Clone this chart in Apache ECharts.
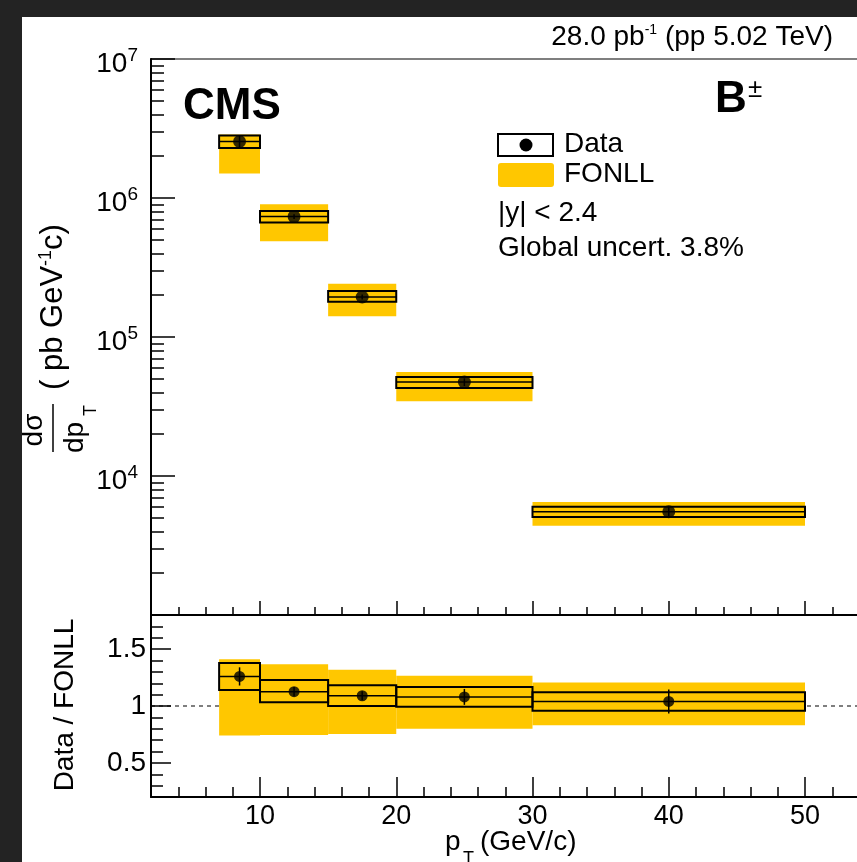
<!DOCTYPE html>
<html>
<head>
<meta charset="utf-8">
<script src="https://cdn.jsdelivr.net/npm/echarts@6/dist/echarts.min.js"></script>
<style>
  html, body { margin: 0; padding: 0; background: #232323; overflow: hidden; }
  #paper { position: absolute; left: 22px; top: 17px; width: 900px; height: 900px; background: #fff; }
  #chart { position: absolute; left: 0; top: 0; width: 900px; height: 862px; }
</style>
</head>
<body>
<div id="paper"></div>
<div id="chart"></div>
<script>
// pT bins (GeV/c)
const binLo = [7, 10, 15, 20, 30]
const binHi = [10, 15, 20, 30, 50]
const binCenter = [8.5, 12.5, 17.5, 25, 40]

// dsigma/dpT (pb GeV^-1 c)
const xsec = [2.55e6, 7.35e5, 1.94e5, 4.74e4, 5.53e3]
const xsecStat = [2.6e5, 3.0e4, 8.0e3, 3.0e3, 5.5e2]
const xsecSystLo = [2.29e6, 6.67e5, 1.79e5, 4.30e4, 5.07e3]
const xsecSystHi = [2.82e6, 8.07e5, 2.14e5, 5.15e4, 6.01e3]
const fonllLo = [1.50e6, 4.88e5, 1.41e5, 3.45e4, 4.38e3]
const fonllHi = [2.86e6, 9.00e5, 2.42e5, 5.60e4, 6.49e3]

// Data / FONLL
const ratio = [1.26, 1.126, 1.09, 1.08, 1.04]
const ratioStat = [0.08, 0.04, 0.04, 0.07, 0.105]
const ratioSystLo = [1.141, 1.032, 1.0, 0.994, 0.959]
const ratioSystHi = [1.377, 1.229, 1.182, 1.168, 1.121]
const ratioFonllLo = [0.741, 0.744, 0.753, 0.80, 0.83]
const ratioFonllHi = [1.412, 1.368, 1.318, 1.265, 1.206]
const unity = 1

// ticks
const ptTicks = [10, 20, 30, 40, 50]
const ratioTicks = [0.5, 1, 1.5]
const decades = [1e3, 1e4, 1e5, 1e6]
const minorMult = [2, 3, 4, 5, 6, 7, 8, 9]
const xsecMinorTicks = []
decades.forEach(d => minorMult.forEach(m => xsecMinorTicks.push(m * d)))

const FONT = '"Liberation Sans", Arial, Helvetica, sans-serif'
const YELLOW = '#ffc700'

const chart = echarts.init(document.getElementById('chart'))

function fillBox(params, api) {
  const p0 = api.coord([api.value(0), api.value(3)])
  const p1 = api.coord([api.value(1), api.value(2)])
  return {
    type: 'rect',
    shape: { x: p0[0], y: p0[1], width: p1[0] - p0[0], height: p1[1] - p0[1] },
    style: { fill: YELLOW }
  }
}

function systBox(params, api) {
  const p0 = api.coord([api.value(0), api.value(3)])
  const p1 = api.coord([api.value(1), api.value(2)])
  const mid = api.coord([api.value(0), api.value(4)])[1]
  return {
    type: 'group',
    children: [
      { type: 'rect', shape: { x: p0[0], y: p0[1], width: p1[0] - p0[0], height: p1[1] - p0[1] },
        style: { fill: 'none', stroke: '#000', lineWidth: 2 } },
      { type: 'line', shape: { x1: p0[0], y1: mid, x2: p1[0], y2: mid },
        style: { stroke: '#000', lineWidth: 1.5 } }
    ]
  }
}

function errBar(params, api) {
  const c = api.value(0), v = api.value(1), e = api.value(2)
  const a = api.coord([c, v - e]), b = api.coord([c, v + e])
  return { type: 'line', shape: { x1: a[0], y1: a[1], x2: b[0], y2: b[1] }, style: { stroke: '#000', lineWidth: 1.5 } }
}

const axisLine = { show: true, lineStyle: { color: '#000', width: 2 } }
const tickStyle = { color: '#000', width: 1.5 }
const noSplit = { show: false }

function ptAxis(grid, major, len, labels) {
  const ax = {
    gridIndex: grid, type: 'value', min: 2, max: 56, position: 'bottom',
    axisLine: major ? axisLine : { show: false },
    axisTick: { inside: true, length: len, lineStyle: tickStyle },
    axisLabel: { show: false },
    splitLine: noSplit
  }
  if (major) ax.axisTick.customValues = ptTicks
  else ax.interval = 2
  if (labels) ax.axisLabel = { show: true, customValues: ptTicks, fontSize: 27, color: '#000', fontFamily: FONT, margin: 6 }
  return ax
}

const box = (lo, hi, a, b, m) => lo.map((l, i) => m ? [l, hi[i], a[i], b[i], m[i]] : [l, hi[i], a[i], b[i]])
const pts = (x, y, e) => x.map((c, i) => e ? [c, y[i], e[i]] : [c, y[i]])

chart.setOption({
  animation: false,
  backgroundColor: 'transparent',
  textStyle: { fontFamily: FONT },
  grid: [
    { left: 151, top: 59, width: 735.75, height: 556, show: true, borderColor: '#555', borderWidth: 1.5 },
    { left: 151, top: 615, width: 735.75, height: 182, show: true, borderColor: '#000', borderWidth: 1 }
  ],
  xAxis: [
    ptAxis(0, true, 14, false),
    ptAxis(0, false, 8, false),
    ptAxis(1, true, 20, true),
    ptAxis(1, false, 10, false)
  ],
  yAxis: [
    { gridIndex: 0, type: 'log', logBase: 10, min: 1000, max: 1e7, position: 'left',
      axisLine, axisTick: { inside: true, length: 24, lineStyle: tickStyle },
      axisLabel: {
        margin: 13, color: '#000', fontFamily: FONT, padding: [10, 0, 0, 0],
        formatter: v => v < 5000 ? '' : '{b|10}{e|' + Math.round(Math.log10(v)) + '}',
        rich: {
          b: { fontSize: 28, lineHeight: 36, fontFamily: FONT, color: '#000' },
          e: { fontSize: 19, verticalAlign: 'top', lineHeight: 36, fontFamily: FONT, color: '#000' }
        }
      },
      splitLine: noSplit },
    { gridIndex: 0, type: 'log', logBase: 10, min: 1000, max: 1e7, position: 'left',
      axisLine: { show: false }, axisTick: { inside: true, length: 13, lineStyle: tickStyle, customValues: xsecMinorTicks },
      axisLabel: { show: false }, splitLine: noSplit },
    { gridIndex: 1, type: 'value', min: 0.2, max: 1.8, position: 'left',
      axisLine, axisTick: { inside: true, length: 20, lineStyle: tickStyle, customValues: ratioTicks },
      axisLabel: { customValues: ratioTicks, fontSize: 28, color: '#000', fontFamily: FONT, margin: 5 },
      splitLine: noSplit },
    { gridIndex: 1, type: 'value', min: 0.2, max: 1.8, interval: 0.1, position: 'left',
      axisLine: { show: false }, axisTick: { inside: true, length: 12, lineStyle: tickStyle },
      axisLabel: { show: false }, splitLine: noSplit }
  ],
  series: [
    { type: 'custom', xAxisIndex: 0, yAxisIndex: 0, z: 1, renderItem: fillBox,
      encode: { x: [0, 1], y: [2, 3] }, data: box(binLo, binHi, fonllLo, fonllHi) },
    { type: 'custom', xAxisIndex: 0, yAxisIndex: 0, z: 3, renderItem: systBox,
      encode: { x: [0, 1], y: [2, 3, 4] }, data: box(binLo, binHi, xsecSystLo, xsecSystHi, xsec) },
    { type: 'custom', xAxisIndex: 0, yAxisIndex: 0, z: 4, renderItem: errBar,
      encode: { x: 0, y: 1 }, data: pts(binCenter, xsec, xsecStat) },
    { type: 'scatter', xAxisIndex: 0, yAxisIndex: 0, z: 5, symbolSize: 13,
      itemStyle: { color: '#000' }, data: pts(binCenter, xsec) },

    { type: 'line', xAxisIndex: 2, yAxisIndex: 2, z: 0, silent: true, symbol: 'none',
      lineStyle: { color: '#000', width: 1, type: [4, 4] }, data: [[2, unity], [56, unity]] },
    { type: 'custom', xAxisIndex: 2, yAxisIndex: 2, z: 1, renderItem: fillBox,
      encode: { x: [0, 1], y: [2, 3] }, data: box(binLo, binHi, ratioFonllLo, ratioFonllHi) },
    { type: 'custom', xAxisIndex: 2, yAxisIndex: 2, z: 3, renderItem: systBox,
      encode: { x: [0, 1], y: [2, 3, 4] }, data: box(binLo, binHi, ratioSystLo, ratioSystHi, ratio) },
    { type: 'custom', xAxisIndex: 2, yAxisIndex: 2, z: 4, renderItem: errBar,
      encode: { x: 0, y: 1 }, data: pts(binCenter, ratio, ratioStat) },
    { type: 'scatter', xAxisIndex: 2, yAxisIndex: 2, z: 5, symbolSize: 11,
      itemStyle: { color: '#000' }, data: pts(binCenter, ratio) }
  ],
  graphic: [
    { type: 'text', x: 833, y: 37, z: 100, style: {
        text: '{a|28.0 pb}{s|-1}{a| (pp 5.02 TeV)}', align: 'right', verticalAlign: 'middle',
        fill: '#000', fontFamily: FONT, fontSize: 28,
        rich: { a: { fontSize: 28, fontFamily: FONT }, s: { fontSize: 14, verticalAlign: 'top', fontFamily: FONT } } } },
    { type: 'text', x: 183, y: 107, z: 100, style: {
        text: 'CMS', fontSize: 44, fontWeight: 'bold', fontFamily: FONT, fill: '#000', verticalAlign: 'middle' } },
    { type: 'text', x: 715, y: 100, z: 100, style: {
        text: 'B', fontSize: 44, fontWeight: 'bold', fontFamily: FONT, fill: '#000', verticalAlign: 'middle' } },
    { type: 'text', x: 748, y: 90, z: 100, style: {
        text: '±', fontSize: 26, fontFamily: FONT, fill: '#000', verticalAlign: 'middle' } },

    // legend
    { type: 'rect', z: 100, shape: { x: 498, y: 134, width: 55, height: 22 },
      style: { fill: '#fff', stroke: '#000', lineWidth: 2 } },
    { type: 'circle', z: 101, shape: { cx: 526, cy: 145, r: 6.5 }, style: { fill: '#000' } },
    { type: 'text', x: 564, y: 144, z: 100, style: {
        text: 'Data', fontSize: 28, fontFamily: FONT, fill: '#000', verticalAlign: 'middle' } },
    { type: 'rect', z: 100, shape: { x: 498, y: 163, width: 56, height: 24, r: 3 }, style: { fill: YELLOW } },
    { type: 'text', x: 564, y: 174, z: 100, style: {
        text: 'FONLL', fontSize: 28, fontFamily: FONT, fill: '#000', verticalAlign: 'middle' } },
    { type: 'text', x: 498, y: 213, z: 100, style: {
        text: '|y| < 2.4', fontSize: 28, fontFamily: FONT, fill: '#000', verticalAlign: 'middle' } },
    { type: 'text', x: 498, y: 248, z: 100, style: {
        text: 'Global uncert. 3.8%', fontSize: 28, fontFamily: FONT, fill: '#000', verticalAlign: 'middle' } },

    // y title (upper)
    { type: 'group', x: 53, y: 428, rotation: Math.PI / 2, z: 100, children: [
      { type: 'line', shape: { x1: -24, y1: 0, x2: 24, y2: 0 }, style: { stroke: '#000', lineWidth: 1.5 } },
      { type: 'text', x: -2, y: -19, style: { text: 'dσ', fontSize: 28, fontFamily: FONT, fill: '#000', align: 'center', verticalAlign: 'middle' } },
      { type: 'text', x: -25, y: 22, style: { text: 'dp', fontSize: 28, fontFamily: FONT, fill: '#000', align: 'left', verticalAlign: 'middle' } },
      { type: 'text', x: 12, y: 38, style: { text: 'T', fontSize: 18, fontFamily: FONT, fill: '#000', align: 'left', verticalAlign: 'middle' } },
      { type: 'text', x: 38, y: 0, style: {
          text: '{a|( pb GeV}{s|-1}{a|c)}', fontSize: 30, fontFamily: FONT, fill: '#000', align: 'left', verticalAlign: 'middle',
          rich: { a: { fontSize: 31, fontFamily: FONT }, s: { fontSize: 18, verticalAlign: 'top', fontFamily: FONT } } } }
    ] },
    // y title (ratio)
    { type: 'text', x: 65, y: 705, rotation: Math.PI / 2, z: 100, style: {
        text: 'Data / FONLL', fontSize: 28, fontFamily: FONT, fill: '#000', align: 'center', verticalAlign: 'middle' } },
    // x title
    { type: 'text', x: 445, y: 842, z: 100, style: {
        text: 'p', fontSize: 28, fontFamily: FONT, fill: '#000', verticalAlign: 'middle' } },
    { type: 'text', x: 463, y: 859, z: 100, style: {
        text: 'T', fontSize: 18, fontFamily: FONT, fill: '#000', verticalAlign: 'middle' } },
    { type: 'text', x: 480, y: 842, z: 100, style: {
        text: '(GeV/c)', fontSize: 28, fontFamily: FONT, fill: '#000', verticalAlign: 'middle' } }
  ]
})
</script>
</body>
</html>
